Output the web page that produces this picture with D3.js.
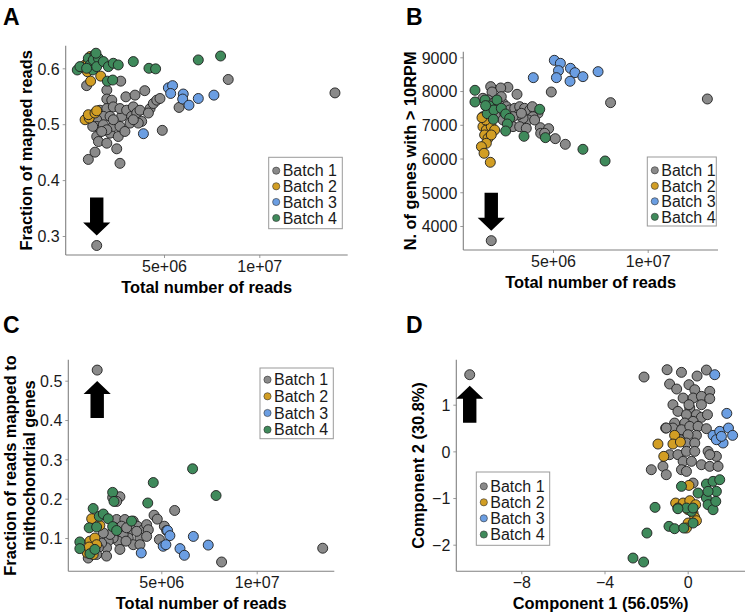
<!DOCTYPE html>
<html><head><meta charset="utf-8">
<script src="https://cdn.jsdelivr.net/npm/d3@7/dist/d3.min.js"></script>
<style>
html,body{margin:0;padding:0;background:#fff;}
svg{display:block;font-family:"Liberation Sans",Arial,Helvetica,sans-serif;}
</style></head>
<body>
<svg id="chart" width="746" height="616"></svg>
<script>
// ---------- DATA ----------
// x of panels A-C: total reads in millions (ticks shown as 5e+06, 1e+07)
const batches = ["Batch 1","Batch 2","Batch 3","Batch 4"];
const batchColors = ["#8a8a8a","#d29e24","#6b9ee2","#3f8a5b"];

// Panel A: fraction of mapped reads
const A_b1 = [[1.47,0.283],[13.97,0.556],[8.37,0.580],[5.79,0.530],[4.91,0.489],[3.99,0.560],[2.69,0.430],[2.52,0.456],[1.03,0.437],[1.38,0.450],[0.94,0.569],[2.73,0.577],[2.0,0.561],[2.0,0.545],[2.26,0.543],[1.64,0.525],[2.0,0.528],[2.34,0.531],[1.82,0.514],[2.17,0.514],[1.47,0.508],[1.47,0.496],[1.82,0.499],[1.47,0.478],[1.56,0.469],[2.0,0.466],[2.17,0.484],[2.34,0.496],[2.6,0.478],[2.69,0.496],[2.78,0.514],[2.69,0.528],[3.0,0.549],[3.04,0.525],[2.95,0.487],[3.3,0.514],[3.48,0.552],[3.39,0.531],[3.57,0.520],[3.22,0.502],[3.74,0.525],[3.83,0.505],[3.65,0.502],[3.39,0.508],[4.27,0.528],[4.44,0.537],[4.62,0.543],[4.79,0.546],[4.18,0.520],[2.0,0.490],[1.73,0.487],[2.34,0.508],[1.26,0.496]];
const A_b2 = [[0.86,0.508],[1.08,0.511],[1.03,0.517],[1.38,0.520],[1.47,0.524],[1.15,0.577],[1.68,0.586],[0.86,0.606],[1.03,0.612],[1.12,0.621],[0.98,0.594]];
const A_b3 = [[5.23,0.565],[5.45,0.569],[5.35,0.555],[6.01,0.554],[5.98,0.545],[6.31,0.534],[6.8,0.546],[7.62,0.552],[3.92,0.483]];
const A_b4 = [[0.45,0.597],[0.59,0.603],[1.03,0.618],[1.38,0.624],[1.12,0.606],[1.29,0.615],[1.56,0.618],[1.26,0.597],[1.47,0.603],[1.82,0.612],[2.08,0.603],[2.34,0.609],[2.6,0.606],[2.03,0.577],[2.31,0.579],[3.39,0.612],[4.21,0.600],[4.56,0.599],[6.8,0.615],[7.97,0.622],[0.94,0.600],[1.43,0.627]];

// Panel B: number of genes with > 10RPM
const B_b1 = [[1.74,3566],[13.15,7765],[8.04,7656],[4.91,7972],[5.12,6589],[5.65,6421],[4.33,6915],[4.77,6886],[4.35,6747],[4.56,6747],[3.1,7903],[2.62,8111],[2.24,8091],[1.71,8131],[1.78,7972],[1.3,7785],[1.57,7735],[1.83,7636],[2.1,7686],[2.36,7636],[2.54,7538],[2.1,7488],[1.83,7439],[1.57,7340],[1.66,7192],[1.92,7241],[2.18,7291],[2.45,7340],[2.71,7439],[2.98,7488],[3.24,7538],[3.5,7488],[3.77,7439],[4.03,7439],[4.21,7340],[3.94,7241],[3.68,7143],[3.42,7192],[3.15,7291],[2.89,7241],[2.62,7143],[2.36,7143],[2.89,6945],[3.24,6945],[3.59,6896],[4.03,7143],[1.48,7538],[2.27,7834],[1.3,7241],[3.33,7340],[3.91,7538]];
const B_b2 = [[1.3,6945],[1.57,7093],[1.48,6846],[1.74,6945],[1.39,6698],[1.57,6599],[1.92,6846],[1.74,6698],[1.48,6451],[1.22,6352],[1.36,6155],[1.69,5888],[1.44,7143],[1.25,7212]];
const B_b3 = [[5.07,8911],[5.39,8822],[5.29,8605],[5.18,8397],[5.92,8674],[6.16,8545],[5.9,8289],[6.58,8427],[7.38,8575],[3.96,8397]];
const B_b4 = [[0.88,8022],[0.88,7676],[1.41,7735],[1.64,7558],[1.53,7330],[1.88,7439],[2.04,7735],[2.27,7488],[2.5,7320],[2.71,7192],[2.59,7024],[2.5,6816],[3.47,6658],[4.3,7459],[4.6,6619],[6.58,6273],[7.75,5927],[1.85,7162],[1.44,7568]];

// Panel C: fraction of reads mapped to mitochondrial genes
const C_b1 = [[1.64,0.527],[13.46,0.074],[8.16,0.039],[5.7,0.170],[4.62,0.158],[4.79,0.148],[5.16,0.130],[5.28,0.119],[4.9,0.096],[2.45,0.203],[2.83,0.205],[2.66,0.193],[2.66,0.147],[3.09,0.147],[3.53,0.143],[3.74,0.130],[4.06,0.121],[4.23,0.134],[4.32,0.121],[3.88,0.100],[3.44,0.121],[3.27,0.100],[3.0,0.109],[2.74,0.092],[2.83,0.071],[2.48,0.100],[2.22,0.092],[2.13,0.075],[1.87,0.087],[1.7,0.075],[1.61,0.058],[1.17,0.049],[2.13,0.054],[2.31,0.109],[2.57,0.126],[2.92,0.130],[3.18,0.126],[3.71,0.117],[3.53,0.083],[3.88,0.083],[3.15,0.092],[1.96,0.113],[4.23,0.104]];
const C_b2 = [[1.35,0.149],[1.26,0.092],[1.52,0.100],[1.61,0.083],[1.12,0.062],[1.43,0.058],[1.78,0.132],[1.22,0.077]];
const C_b3 = [[5.33,0.119],[5.45,0.106],[5.1,0.079],[5.24,0.083],[5.98,0.073],[6.21,0.056],[6.68,0.104],[7.46,0.082],[3.95,0.062]];
const C_b4 = [[0.73,0.090],[0.73,0.073],[1.43,0.175],[1.22,0.126],[1.61,0.128],[1.75,0.155],[1.96,0.161],[2.22,0.149],[2.45,0.216],[2.52,0.193],[2.45,0.129],[2.66,0.119],[3.44,0.143],[4.29,0.189],[4.58,0.241],[6.64,0.276],[7.87,0.208],[1.26,0.060],[1.52,0.071]];

// Panel D: PCA components
const D_b1 = [[-10.48,1.643],[-2.1,1.593],[-0.99,1.75],[-0.3,1.693],[0.45,1.614],[0.9,1.743],[-0.87,1.443],[-0.53,1.336],[0.06,1.429],[0.34,1.321],[1.06,1.286],[-0.22,1.143],[0.26,1.143],[0.66,1.179],[-0.71,1.0],[0.1,0.929],[0.66,1.0],[1.06,1.129],[-0.47,0.857],[-0.06,0.786],[0.42,0.786],[0.66,0.729],[0.26,0.643],[-0.14,0.607],[-0.63,0.607],[-1.06,0.5],[-0.71,0.5],[-0.3,0.464],[0.1,0.536],[0.5,0.536],[0.9,0.486],[0.42,0.343],[0.02,0.357],[-0.38,0.25],[-0.06,0.179],[0.34,0.179],[-0.87,-0.071],[-0.47,-0.071],[-0.06,0.0],[0.34,0.0],[-0.22,-0.214],[0.18,-0.214],[0.98,0.0],[1.38,-0.107],[1.06,-0.071],[0.66,-0.286],[1.06,-0.321],[1.46,-0.321],[-1.19,-0.321],[-1.75,-0.393],[-1.03,-0.5],[-0.3,-0.393],[-0.06,-0.429],[0.26,-0.679],[-1.03,0.5],[0.06,1.0],[0.95,0.786]];
const D_b2 = [[-0.63,0.343],[-1.43,0.157],[-0.71,0.157],[-0.35,0.2],[-1.15,-0.107],[0.06,-0.729],[-0.58,-1.107],[-0.22,-1.107],[0.1,-1.057],[0.38,-1.143],[0.02,-1.25],[0.26,-1.321],[0.34,-1.414],[0.42,-1.486],[0.02,-1.536],[-0.06,-1.643],[-0.47,-1.214]];
const D_b3 = [[1.3,1.643],[1.88,0.814],[1.22,0.343],[1.54,0.429],[1.96,0.5],[2.16,0.343],[1.7,0.179],[1.38,0.25],[1.62,0.321]];
const D_b4 = [[-2.63,-2.286],[-2.12,-2.371],[-1.96,-1.75],[-1.57,-1.2],[-0.9,-1.607],[-0.63,-1.657],[-0.19,-1.643],[0.26,-1.536],[0.18,-1.286],[-0.06,-1.214],[-0.47,-1.229],[-0.3,-0.75],[0.5,-0.893],[0.9,-1.0],[0.98,-1.143],[1.22,-1.25],[1.35,-1.071],[0.9,-0.7],[1.22,-0.643],[1.54,-0.607],[1.38,-0.857],[0.98,-0.857],[0.26,-1.214]];

// Tick values / labels
const readsTicks = [5, 10];
const readsTickLabels = ["5e+06","1e+07"];
const A_yTicks = [0.3,0.4,0.5,0.6];
const B_yTicks = [4000,5000,6000,7000,8000,9000];
const C_yTicks = [0.1,0.2,0.3,0.4,0.5];
const D_xTicks = [-8,-4,0];
const D_yTicks = [-2,-1,0,1];

// ---------- LAYOUT ----------
const svg = d3.select("#chart");
const font = '"Liberation Sans",Arial,Helvetica,sans-serif';

const panels = [
  { letter:"A", lx:3, ly:25,
    data:[A_b1,A_b2,A_b3,A_b4],
    plot:{x0:65.7,x1:347.7,y0:45.7,y1:255},
    xa:{v:[5,10],p:[164,259.3]}, ya:{v:[0.6,0.3],p:[68.3,236]},
    xTicks:readsTicks, xLabels:readsTickLabels, yTicks:A_yTicks, yFmt:d3.format(".1f"),
    xTitle:"Total number of reads", xTitleY:293,
    yTitle:["Fraction of mapped reads"], yTitleX:[32],
    legend:{x:268.7,y:157.3,w:73.6,h:71.4,rows:[170.7,186.3,202,218]},
    arrow:"down", outlier:[1.47,0.283] },
  { letter:"B", lx:406, ly:25,
    data:[B_b1,B_b2,B_b3,B_b4],
    plot:{x0:463.3,x1:718,y0:51.7,y1:250},
    xa:{v:[5,10],p:[553,647.7]}, ya:{v:[9000,4000],p:[57.3,226]},
    xTicks:readsTicks, xLabels:readsTickLabels, yTicks:B_yTicks, yFmt:d3.format("d"),
    xTitle:"Total number of reads", xTitleY:288,
    yTitle:["N. of genes with > 10RPM"], yTitleX:[416],
    legend:{x:647.3,y:157,w:69,h:69,rows:[170.3,185.8,201.3,216.8]},
    arrow:"down", outlier:[1.74,3566] },
  { letter:"C", lx:3, ly:333,
    data:[C_b1,C_b2,C_b3,C_b4],
    plot:{x0:68.3,x1:334.3,y0:359.7,y1:571.3},
    xa:{v:[5,10],p:[161.3,256.7]}, ya:{v:[0.5,0.1],p:[380.7,538]},
    xTicks:readsTicks, xLabels:readsTickLabels, yTicks:C_yTicks, yFmt:d3.format(".1f"),
    xTitle:"Total number of reads", xTitleY:609,
    yTitle:["Fraction of reads mapped to","mithochondrial genes"], yTitleX:[16,35],
    legend:{x:260,y:368,w:73.3,h:70.7,rows:[379.7,396.3,413,429.7]},
    arrow:"up", outlier:[1.64,0.527] },
  { letter:"D", lx:406, ly:333,
    data:[D_b1,D_b2,D_b3,D_b4],
    plot:{x0:456.3,x1:745,y0:359.7,y1:571.3},
    xa:{v:[-8,0],p:[521.3,687.7]}, ya:{v:[1,-2],p:[404.7,544.7]},
    xTicks:D_xTicks, xLabels:D_xTicks.map(d=>d<0?"\u2212"+Math.abs(d):String(d)), yTicks:D_yTicks,
    yFmt:d=>d<0?"\u2212"+Math.abs(d):String(d),
    xTitle:"Component 1 (56.05%)", xTitleY:609,
    yTitle:["Component 2 (30.8%)"], yTitleX:[424],
    legend:{x:476.3,y:472,w:73.4,h:73.3,rows:[486.3,502.3,518.3,534.5]},
    arrow:"up", outlier:[-10.48,1.643] }
];

const axisColor = "#808080";
const r = 5;

panels.forEach(P => {
  const g = svg.append("g");
  // scales anchored on the ticks, then extended to the axis extents
  const xs0 = d3.scaleLinear().domain(P.xa.v).range(P.xa.p);
  const ys0 = d3.scaleLinear().domain(P.ya.v).range(P.ya.p);
  const x = d3.scaleLinear().domain([xs0.invert(P.plot.x0), xs0.invert(P.plot.x1)]).range([P.plot.x0, P.plot.x1]);
  const y = d3.scaleLinear().domain([ys0.invert(P.plot.y1), ys0.invert(P.plot.y0)]).range([P.plot.y1, P.plot.y0]);

  // panel letter
  g.append("text").attr("x",P.lx).attr("y",P.ly).attr("font-size",23).attr("font-weight","bold")
    .attr("fill","#000").text(P.letter);

  // axes
  const xAxis = d3.axisBottom(x).tickValues(P.xTicks).tickSize(3).tickPadding(2)
    .tickFormat((d,i)=>P.xLabels[i]);
  const gx = g.append("g").attr("transform",`translate(0,${P.plot.y1})`).call(xAxis);
  const yAxis = d3.axisLeft(y).tickValues(P.yTicks).tickSize(3).tickPadding(3).tickFormat(P.yFmt);
  const gy = g.append("g").attr("transform",`translate(${P.plot.x0},0)`).call(yAxis);
  [gx,gy].forEach(a=>{
    a.select(".domain").remove();
    a.selectAll(".tick line").attr("stroke",axisColor).attr("stroke-width",0.8);
    a.selectAll(".tick text").attr("font-size",16).attr("fill","#1a1a1a").attr("font-family",font);
  });
  gy.selectAll(".tick text").attr("dy","0.36em");
  gx.selectAll(".tick text").attr("dy","0.75em");
  g.append("line").attr("x1",P.plot.x0).attr("x2",P.plot.x0).attr("y1",P.plot.y0).attr("y2",P.plot.y1)
    .attr("stroke",axisColor).attr("stroke-width",1.1);
  g.append("line").attr("x1",P.plot.x0).attr("x2",P.plot.x1).attr("y1",P.plot.y1).attr("y2",P.plot.y1)
    .attr("stroke",axisColor).attr("stroke-width",1.1);

  // axis titles
  g.append("text").attr("x",(P.plot.x0+P.plot.x1)/2).attr("y",P.xTitleY).attr("text-anchor","middle")
    .attr("font-size",16.4).attr("font-weight","bold").attr("fill","#000").text(P.xTitle);
  const cy = (P.plot.y0+P.plot.y1)/2;
  P.yTitle.forEach((t,i)=>{
    g.append("text").attr("transform",`translate(${P.yTitleX[i]},${cy}) rotate(-90)`)
      .attr("text-anchor","middle").attr("font-size",16.4).attr("font-weight","bold").attr("fill","#000").text(t);
  });

  // points
  P.data.forEach((arr,bi)=>{
    g.append("g").selectAll("circle").data(arr).join("circle")
      .attr("cx",d=>x(d[0])).attr("cy",d=>y(d[1])).attr("r",r)
      .attr("fill",batchColors[bi]).attr("stroke","#1f1f1f").attr("stroke-width",0.9);
  });

  // arrow annotation pointing at the outlier
  const ox = x(P.outlier[0]), oy = y(P.outlier[1]);
  const sh = 6.7, hh = 13.6;
  let pts;
  if (P.arrow==="down") {
    const top=oy-48, base=oy-23, tip=oy-10;
    pts=[[ox-sh,top],[ox+sh,top],[ox+sh,base],[ox+hh,base],[ox,tip],[ox-hh,base],[ox-sh,base]];
  } else {
    const bot=oy+48, base=oy+24, tip=oy+11;
    pts=[[ox-sh,bot],[ox+sh,bot],[ox+sh,base],[ox+hh,base],[ox,tip],[ox-hh,base],[ox-sh,base]];
  }
  g.append("polygon").attr("points",pts.map(p=>p.join(",")).join(" ")).attr("fill","#000");

  // legend
  const L = P.legend;
  const lg = g.append("g");
  lg.append("rect").attr("x",L.x).attr("y",L.y).attr("width",L.w).attr("height",L.h)
    .attr("fill","#fff").attr("stroke","#9a9a9a").attr("stroke-width",1);
  batches.forEach((b,i)=>{
    lg.append("circle").attr("cx",L.x+7.5).attr("cy",L.rows[i]).attr("r",3.6)
      .attr("fill",batchColors[i]).attr("stroke","#333").attr("stroke-width",0.6);
    lg.append("text").attr("x",L.x+14).attr("y",L.rows[i]).attr("dy","0.36em")
      .attr("font-size",16).attr("fill","#1a1a1a").text(b);
  });
});
</script>
</body></html>
